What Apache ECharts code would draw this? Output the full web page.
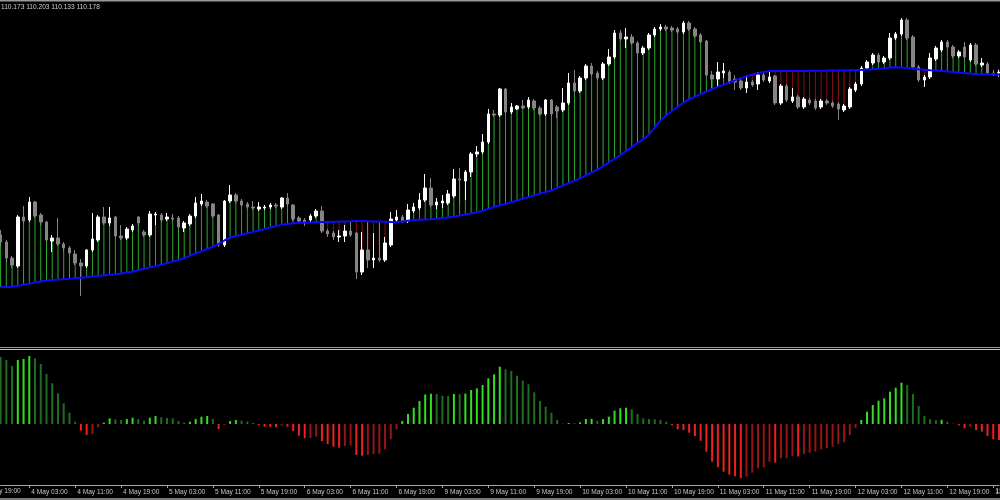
<!DOCTYPE html>
<html>
<head>
<meta charset="utf-8">
<script src="https://cdn.jsdelivr.net/npm/echarts@6/dist/echarts.min.js"></script>
<style>
html,body{margin:0;padding:0;background:#000;}
#chart{width:1000px;height:500px;}
</style>
</head>
<body>
<div id="chart"></div>
<script>
// Hourly bars (USDJPY-like), 175 bars
const opens = [108.55,108.48,108.32,108.24,108.73,108.70,108.88,108.75,108.68,108.49,
108.52,108.46,108.42,108.36,108.27,108.24,108.40,108.50,108.73,108.67,
108.73,108.54,108.52,108.60,108.73,108.58,108.55,108.75,108.75,108.71,
108.72,108.72,108.62,108.66,108.74,108.86,108.88,108.86,108.75,108.45,
108.89,108.95,108.89,108.86,108.83,108.81,108.82,108.83,108.85,108.83,
108.92,108.85,108.72,108.70,108.70,108.74,108.79,108.59,108.57,108.53,
108.54,108.59,108.57,108.18,108.40,108.30,108.32,108.30,108.45,108.70,
108.73,108.69,108.79,108.82,108.90,109.02,108.85,108.87,108.87,108.94,
109.11,109.09,109.18,109.36,109.38,109.48,109.76,109.75,110.01,109.78,
109.81,109.84,109.83,109.89,109.82,109.76,109.90,109.83,109.80,109.87,
110.07,109.99,110.12,110.24,110.17,110.12,110.26,110.33,110.57,110.51,
110.53,110.47,110.37,110.42,110.55,110.61,110.63,110.62,110.61,110.58,
110.67,110.61,110.55,110.49,110.15,110.11,110.17,110.18,110.11,110.09,
110.02,110.08,110.06,110.15,110.09,110.14,109.87,110.04,109.89,109.93,
109.83,109.90,109.89,109.83,109.89,109.87,109.86,109.80,109.83,110.00,
110.06,110.22,110.27,110.35,110.28,110.32,110.52,110.56,110.70,110.53,
110.23,110.10,110.13,110.31,110.40,110.48,110.43,110.34,110.43,110.30,
110.45,110.25,110.26,110.17,110.173];

const closes = [108.48,108.32,108.25,108.73,108.69,108.88,108.74,108.68,108.50,108.52,
108.46,108.42,108.37,108.27,108.24,108.40,108.51,108.73,108.67,108.72,
108.54,108.52,108.61,108.64,108.67,108.55,108.76,108.76,108.70,108.73,
108.71,108.63,108.67,108.74,108.87,108.89,108.84,108.74,108.45,108.89,
108.95,108.89,108.85,108.83,108.82,108.83,108.83,108.85,108.84,108.92,
108.86,108.71,108.69,108.67,108.74,108.79,108.59,108.56,108.53,108.54,
108.59,108.55,108.18,108.40,108.30,108.32,108.30,108.47,108.71,108.73,
108.69,108.80,108.83,108.90,109.02,108.85,108.88,108.89,108.96,109.11,
109.10,109.18,109.36,109.38,109.48,109.76,109.75,110.01,109.78,109.83,
109.84,109.82,109.90,109.82,109.76,109.90,109.76,109.79,109.87,110.07,
109.99,110.12,110.24,110.16,110.12,110.26,110.33,110.57,110.51,110.53,
110.47,110.37,110.42,110.55,110.61,110.63,110.61,110.60,110.58,110.67,
110.61,110.54,110.48,110.15,110.11,110.18,110.19,110.08,110.08,110.02,
110.08,110.05,110.15,110.10,110.13,109.87,110.04,109.90,109.93,109.83,
109.91,109.87,109.82,109.89,109.87,109.84,109.81,109.84,110.01,110.06,
110.22,110.28,110.35,110.28,110.32,110.52,110.56,110.70,110.52,110.23,
110.10,110.13,110.32,110.42,110.48,110.43,110.34,110.38,110.33,110.45,
110.26,110.27,110.17,110.16,110.178];

const highs = [108.60,108.50,108.34,108.75,108.84,108.93,108.89,108.77,108.69,108.55,
108.72,108.48,108.44,108.40,108.31,108.41,108.77,108.75,108.83,108.83,
108.74,108.65,108.63,108.66,108.74,108.60,108.79,108.78,108.77,108.77,
108.76,108.74,108.69,108.76,108.93,108.96,108.90,108.87,108.76,108.90,
109.05,108.97,108.91,108.88,108.89,108.88,108.85,108.87,108.87,108.93,
108.97,108.86,108.74,108.72,108.76,108.81,108.84,108.61,108.59,108.60,
108.65,108.68,108.58,108.58,108.68,108.57,108.67,108.53,108.78,108.80,
108.75,108.86,108.87,108.97,109.16,109.12,108.92,108.95,109.00,109.21,
109.22,109.20,109.38,109.44,109.56,109.81,109.80,110.02,110.02,109.87,
109.85,109.90,109.93,109.91,109.84,109.91,109.91,109.85,110.02,110.17,
110.20,110.14,110.26,110.27,110.19,110.28,110.41,110.60,110.60,110.62,
110.56,110.49,110.44,110.57,110.63,110.66,110.65,110.64,110.63,110.69,
110.69,110.63,110.57,110.50,110.19,110.28,110.27,110.20,110.15,110.11,
110.15,110.10,110.18,110.17,110.20,110.15,110.06,110.06,110.02,109.95,
109.93,109.92,109.91,109.91,109.91,109.89,109.88,109.86,110.03,110.08,
110.24,110.30,110.37,110.37,110.34,110.57,110.58,110.72,110.72,110.55,
110.25,110.15,110.37,110.44,110.50,110.50,110.45,110.40,110.48,110.47,
110.47,110.32,110.28,110.20,110.203];

const lows = [108.44,108.28,108.22,108.22,108.66,108.68,108.72,108.65,108.48,108.38,
108.44,108.38,108.34,108.25,107.94,108.22,108.38,108.48,108.65,108.64,
108.52,108.50,108.50,108.58,108.64,108.53,108.53,108.65,108.68,108.69,
108.69,108.61,108.58,108.64,108.72,108.84,108.82,108.72,108.43,108.43,
108.87,108.87,108.83,108.81,108.80,108.79,108.80,108.81,108.82,108.81,
108.84,108.69,108.67,108.64,108.68,108.72,108.57,108.53,108.50,108.48,
108.48,108.53,108.11,108.15,108.22,108.22,108.28,108.28,108.43,108.68,
108.67,108.67,108.77,108.80,108.88,108.83,108.81,108.82,108.85,108.92,
108.87,108.90,109.13,109.33,109.36,109.46,109.73,109.73,109.75,109.76,
109.80,109.81,109.81,109.80,109.74,109.74,109.74,109.72,109.78,109.85,
109.97,109.97,110.10,110.14,110.10,110.10,110.24,110.31,110.49,110.42,
110.45,110.35,110.35,110.40,110.53,110.59,110.59,110.58,110.56,110.56,
110.59,110.52,110.46,110.13,110.02,110.02,110.12,110.06,110.00,110.00,
109.97,110.03,110.00,110.08,110.07,109.85,109.85,109.88,109.87,109.81,
109.81,109.85,109.80,109.81,109.85,109.82,109.70,109.78,109.81,109.98,
110.04,110.20,110.25,110.26,110.26,110.30,110.50,110.54,110.50,110.21,
110.08,110.03,110.11,110.29,110.38,110.41,110.32,110.32,110.31,110.28,
110.24,110.23,110.15,110.14,110.133];

// moving average (blue line)
const maValues = [108.030,108.030,108.033,108.042,108.053,108.063,108.076,108.085,108.094,108.101,
108.105,108.108,108.112,108.117,108.122,108.127,108.134,108.141,108.147,108.153,
108.158,108.166,108.174,108.182,108.197,108.212,108.226,108.239,108.253,108.267,
108.284,108.300,108.317,108.345,108.365,108.389,108.410,108.434,108.458,108.495,
108.525,108.540,108.553,108.567,108.581,108.595,108.610,108.625,108.640,108.654,
108.661,108.667,108.672,108.674,108.675,108.677,108.679,108.681,108.683,108.684,
108.686,108.687,108.689,108.690,108.688,108.686,108.684,108.682,108.680,108.678,
108.685,108.693,108.700,108.702,108.705,108.708,108.713,108.719,108.725,108.734,
108.744,108.755,108.765,108.777,108.792,108.811,108.830,108.847,108.862,108.878,
108.895,108.912,108.929,108.946,108.962,108.979,108.997,109.021,109.043,109.068,
109.092,109.117,109.146,109.175,109.202,109.238,109.274,109.311,109.349,109.389,
109.429,109.469,109.509,109.553,109.625,109.695,109.745,109.790,109.833,109.870,
109.906,109.934,109.959,109.985,110.008,110.031,110.054,110.075,110.096,110.119,
110.137,110.152,110.168,110.180,110.189,110.190,110.190,110.190,110.190,110.190,
110.191,110.192,110.192,110.193,110.193,110.194,110.195,110.196,110.198,110.199,
110.201,110.204,110.207,110.212,110.218,110.224,110.227,110.225,110.220,110.214,
110.208,110.203,110.198,110.195,110.191,110.186,110.180,110.174,110.169,110.164,
110.158,110.157,110.157,110.157,110.156];

// oscillator histogram (lower pane)
const histValues = [67,64,58,64,65,68,65.7,60,50,40.7,
30.7,20.7,11.3,2.3,-6.7,-11,-10,-3.3,1.3,5.7,
4.7,4,5,6.3,5,3.3,6.3,8,6.7,6,
5.7,3,1.3,2.3,5,7.3,8,5,-5,-1,
3,4,3.3,2.3,1,-1.3,-2.7,-3,-3.3,-1.7,
-2.7,-7,-11.7,-14.3,-14,-12.7,-17,-20,-22.7,-23.7,
-22,-21.5,-31,-31.7,-31,-30,-29.7,-25.3,-15.3,-5.3,
3,10,16.3,23,29.5,30.3,30,28.3,28,30,
29.7,30.5,34,35.7,39,45.7,49.7,57.3,54.7,53,
48.3,43.3,39.7,31.7,23,17.3,11.3,4,0.3,1,
0.7,1.7,5,5.2,3.3,5,7.3,13.3,15.7,16.3,
14.7,10,5.7,5,4.7,4,2.3,-1.3,-5.3,-6,
-8.7,-12,-16.7,-27.7,-37.7,-43.3,-47.7,-50.5,-52.3,-54.3,
-52.7,-48.7,-44.3,-43.3,-37.7,-38.7,-34.3,-34.3,-32,-32.5,
-30,-28.7,-27.7,-25.3,-24.3,-22.7,-20,-18.3,-11,-4.3,
4,12.3,19,23.3,25.7,32.3,36.3,41.3,39,30,
18,8,4.7,3.8,4.2,2.3,0.3,-1.3,-4.3,-2.7,
-6,-7.7,-12,-15.3,-16];

// time axis labels, one every 8 bars
const tickLabels = ['3 May 19:00','4 May 03:00','4 May 11:00','4 May 19:00','5 May 03:00','5 May 11:00',
'5 May 19:00','6 May 03:00','6 May 11:00','6 May 19:00','9 May 03:00','9 May 11:00','9 May 19:00',
'10 May 03:00','10 May 11:00','10 May 19:00','11 May 03:00','11 May 11:00','11 May 19:00',
'12 May 03:00','12 May 11:00','12 May 19:00','13 May 03:00'];
const firstTickBar = -3;
const tickStep = 8;

const N = closes.length;
const categories = closes.map((c, i) => {
  const k = (i - firstTickBar) / tickStep;
  return Number.isInteger(k) ? tickLabels[k] : ('b' + i);
});
const isTick = i => ((i - firstTickBar) % tickStep) === 0;

const candleData = opens.map((o, i) => [o, closes[i], lows[i], highs[i]]);
const stemData = closes.map((c, i) => [i, maValues[i], c]);
const histData = histValues.map((v, i) => {
  const prev = i > 0 ? histValues[i - 1] : v;
  let color;
  if (v >= 0) color = v > prev ? '#33dd22' : '#1f6e1f';
  else color = v < prev ? '#ee2020' : '#981414';
  return { value: v, itemStyle: { color } };
});

const chart = echarts.init(document.getElementById('chart'), null, { renderer: 'canvas' });
const gridLeft = 0.6, gridWidth = 998.4;
const labelFont = { color: '#c4c4c4', fontSize: 6.6, fontFamily: 'Liberation Sans, Arial, sans-serif' };

chart.setOption({
  backgroundColor: '#000000',
  animation: false,
  grid: [
    { left: gridLeft, width: gridWidth, top: 0, height: 345, containLabel: false, outerBoundsMode: 'none' },
    { left: gridLeft, width: gridWidth, top: 352, height: 133, containLabel: false, outerBoundsMode: 'none' }
  ],
  xAxis: [
    { type: 'category', gridIndex: 0, data: categories, boundaryGap: false, show: false },
    {
      type: 'category', gridIndex: 1, data: categories, boundaryGap: false,
      axisLine: { show: true, onZero: false, lineStyle: { color: '#a8a8a8', width: 1 } },
      axisTick: { show: true, length: 3, interval: (i) => isTick(i), lineStyle: { color: '#a8a8a8' } },
      axisLabel: {
        show: true, interval: (i) => isTick(i), align: 'left', margin: 4,
        padding: [0, 0, 0, 2], hideOverlap: false,
        formatter: (v) => (v.charAt(0) === 'b' ? '' : v),
        color: labelFont.color, fontSize: labelFont.fontSize, fontFamily: labelFont.fontFamily
      },
      splitLine: { show: false }
    }
  ],
  yAxis: [
    { type: 'value', gridIndex: 0, min: 107.45, max: 110.90, show: false, splitLine: { show: false } },
    { type: 'value', gridIndex: 1, min: -61, max: 72, show: false, splitLine: { show: false } }
  ],
  series: [
    {
      type: 'custom', xAxisIndex: 0, yAxisIndex: 0, z: 1,
      data: stemData,
      encode: { x: 0, y: [1, 2] },
      renderItem: function (params, api) {
        const i = api.value(0);
        const p1 = api.coord([i, api.value(1)]);
        const p2 = api.coord([i, api.value(2)]);
        const up = api.value(2) >= api.value(1);
        return {
          type: 'line',
          shape: { x1: p1[0], y1: p1[1], x2: p2[0], y2: p2[1] },
          style: { stroke: up ? '#2ea82e' : '#8c1010', lineWidth: 1 }
        };
      }
    },
    {
      type: 'candlestick', xAxisIndex: 0, yAxisIndex: 0, z: 3,
      data: candleData,
      barWidth: 3,
      itemStyle: {
        color: '#ffffff', color0: '#858585',
        borderColor: '#ffffff', borderColor0: '#858585', borderWidth: 1
      }
    },
    {
      type: 'line', xAxisIndex: 0, yAxisIndex: 0, z: 5,
      data: maValues, symbol: 'none', smooth: false,
      lineStyle: { color: '#0a0aff', width: 2 }
    },
    {
      type: 'bar', xAxisIndex: 1, yAxisIndex: 1, z: 2,
      data: histData, barWidth: 2
    }
  ],
  graphic: [
    { type: 'rect', left: 0, top: 0, shape: { width: 1000, height: 1.5 }, style: { fill: '#9a9a9a' }, silent: true },
    { type: 'line', shape: { x1: 0, y1: 347.5, x2: 1000, y2: 347.5 }, style: { stroke: '#9a9a9a', lineWidth: 1 }, silent: true },
    { type: 'line', shape: { x1: 0, y1: 349.5, x2: 1000, y2: 349.5 }, style: { stroke: '#c8c8c8', lineWidth: 1 }, silent: true },
    { type: 'rect', left: 0, top: 498, shape: { width: 1000, height: 2 }, style: { fill: '#7a7a7a' }, silent: true },
    {
      type: 'text', left: 1, top: 4,
      style: {
        text: [opens[N - 1], highs[N - 1], lows[N - 1], closes[N - 1]].map(v => v.toFixed(3)).join(' '),
        fill: '#cfcfcf', fontSize: 6.6, fontFamily: labelFont.fontFamily
      }
    },
    {
      type: 'text', left: -15.5, top: 488,
      style: { text: tickLabels[0], fill: labelFont.color, fontSize: labelFont.fontSize, fontFamily: labelFont.fontFamily }
    },
    {
      type: 'text', left: 995.5, top: 488,
      style: { text: tickLabels[tickLabels.length - 1], fill: labelFont.color, fontSize: labelFont.fontSize, fontFamily: labelFont.fontFamily }
    }
  ]
});
</script>
</body>
</html>
